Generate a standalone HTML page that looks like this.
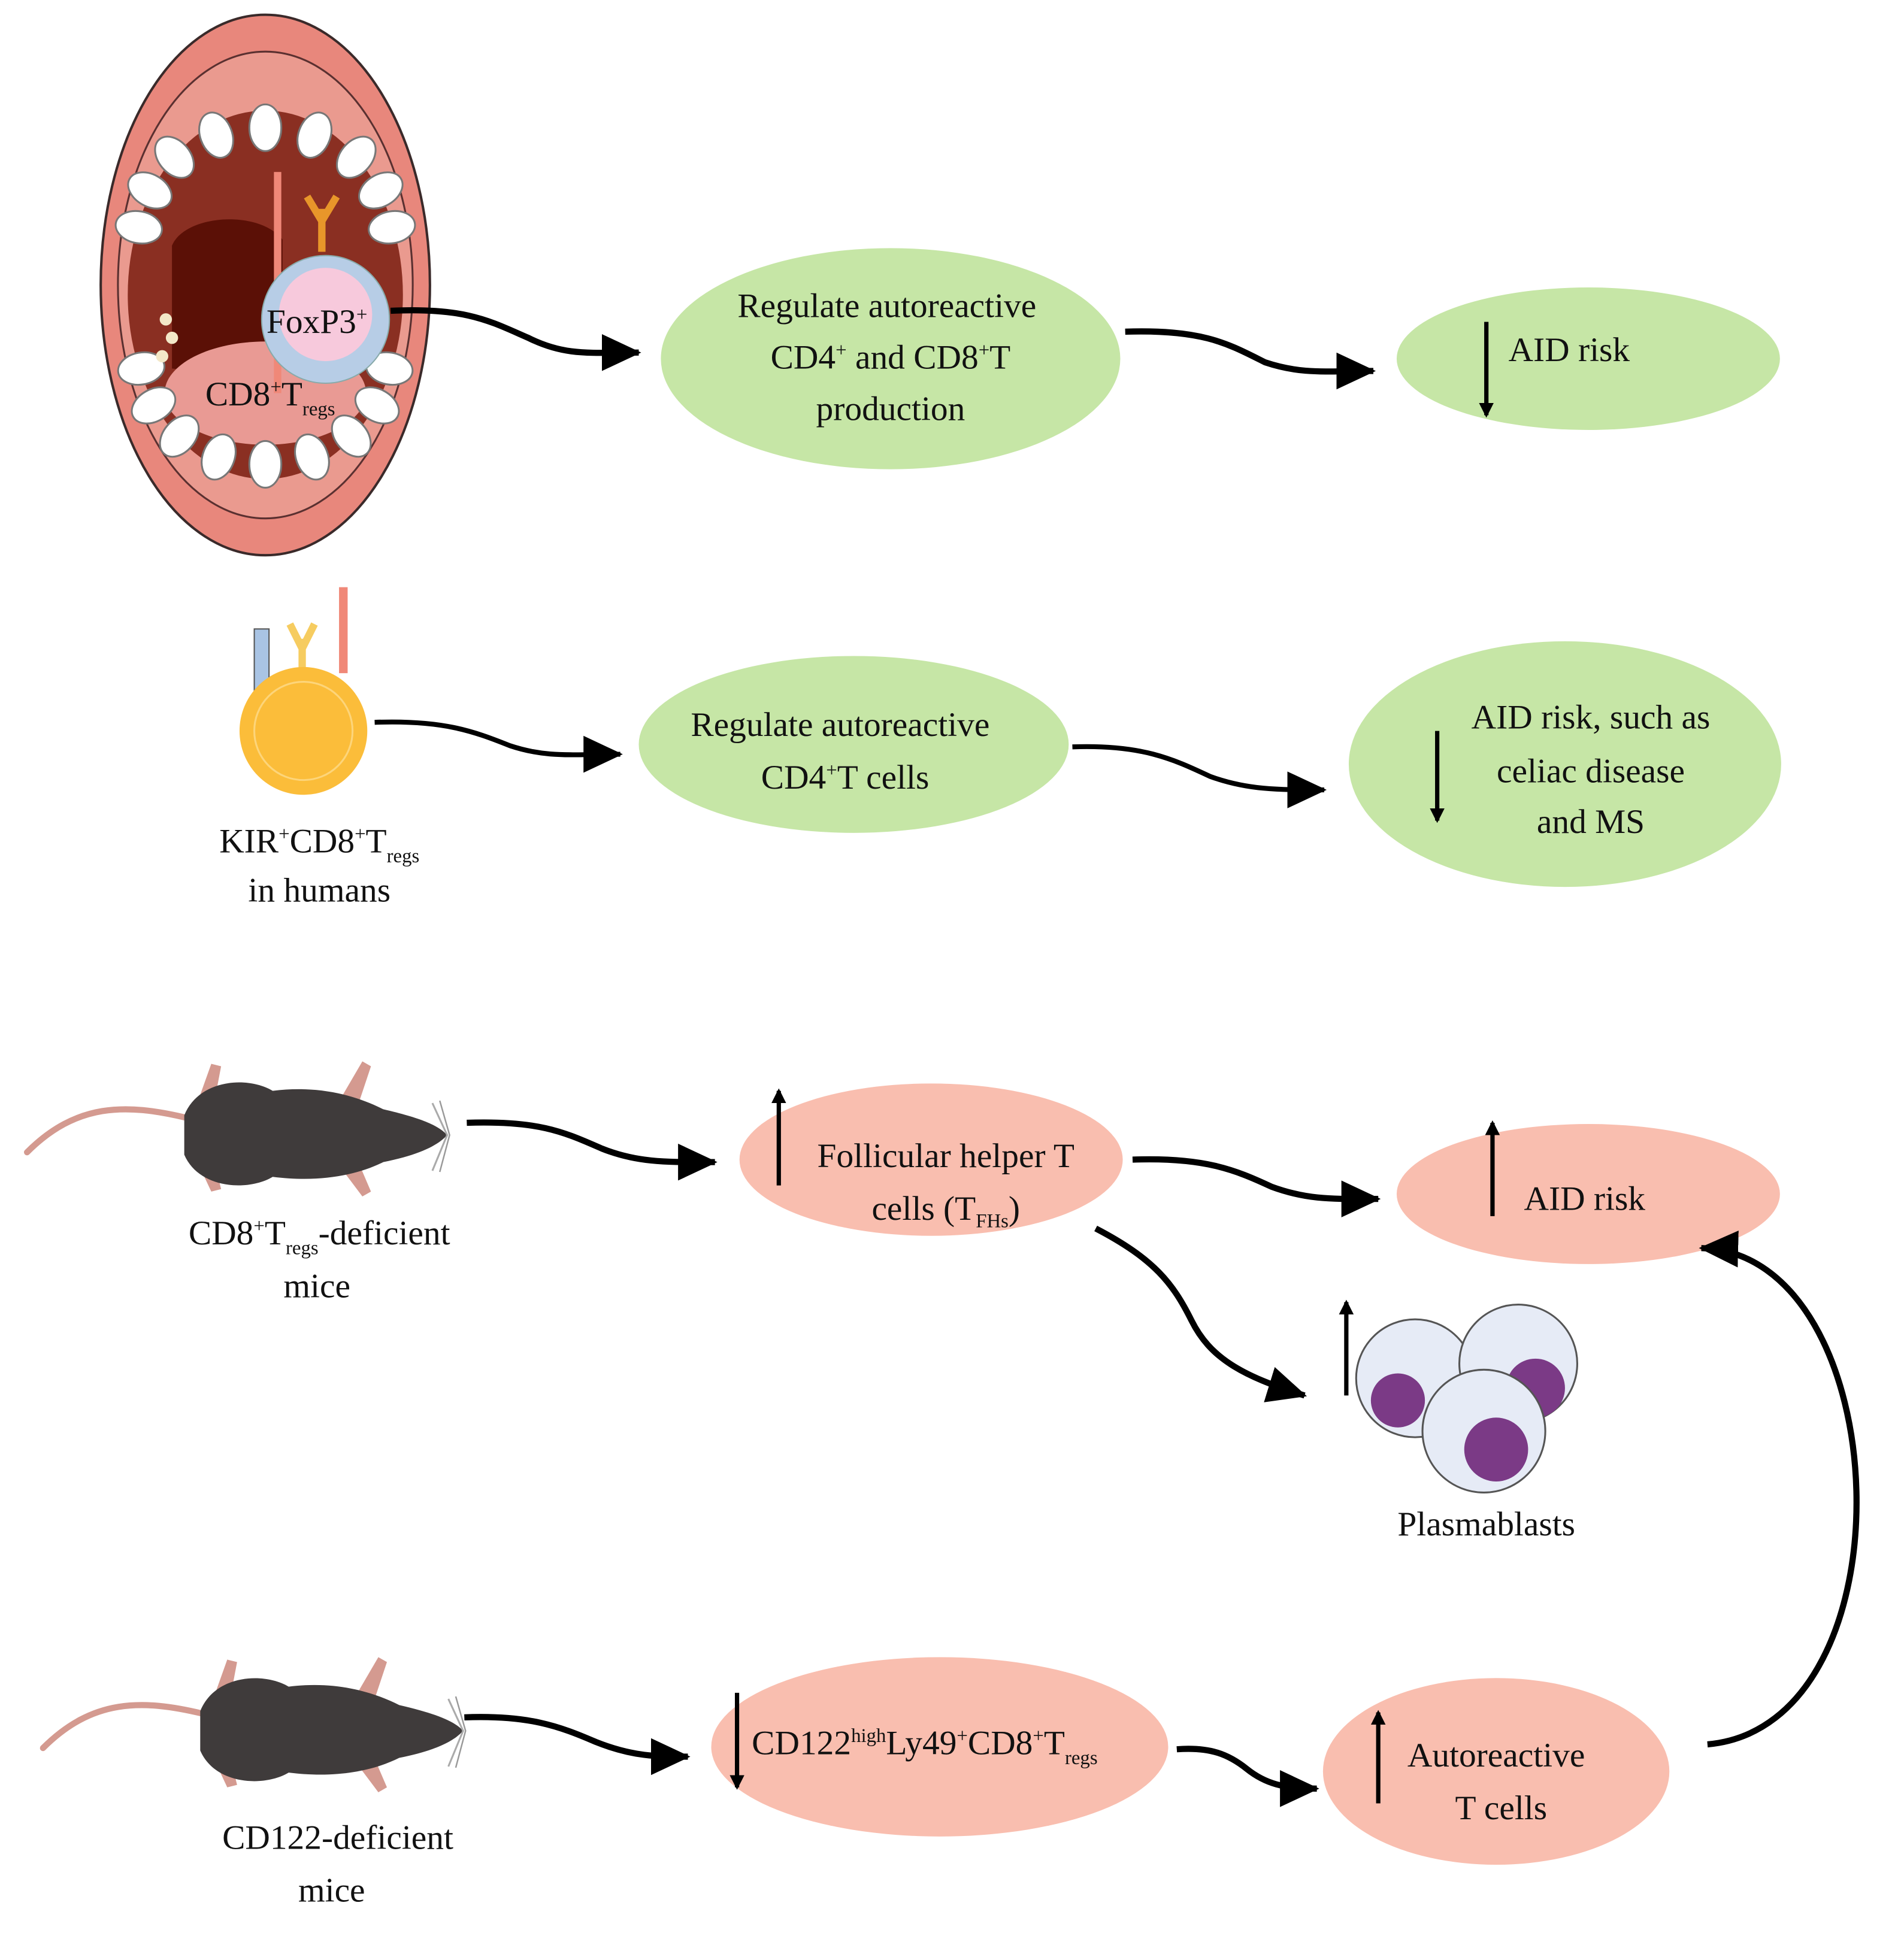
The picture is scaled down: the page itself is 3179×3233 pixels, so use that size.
<!DOCTYPE html>
<html><head><meta charset="utf-8"><style>
html,body{margin:0;padding:0;background:#fff;}
svg{display:block;}
text{font-family:"Liberation Serif",serif;fill:#111;}
</style></head><body>
<svg width="3179" height="3233" viewBox="0 0 1550 1576" preserveAspectRatio="none" xmlns="http://www.w3.org/2000/svg">
<defs>
<marker id="ah" markerUnits="userSpaceOnUse" markerWidth="34" markerHeight="34" refX="30" refY="17" orient="auto">
<path d="M0,2 L32,17 L0,32 Z" fill="#000"/></marker>
<marker id="ahs" markerUnits="userSpaceOnUse" markerWidth="14" markerHeight="14" refX="10" refY="7" orient="auto"><path d="M0,1 L12,7 L0,13 Z" fill="#000"/></marker>
<g id="mouse">
<path d="M10,80 C50,40 90,40 140,52" stroke="#d49a90" stroke-width="5" fill="none" stroke-linecap="round"/>
<path d="M145,50 L160,8 L168,10 L160,52 Z" fill="#d49a90"/>
<path d="M145,80 L160,112 L168,110 L160,78 Z" fill="#d49a90"/>
<path d="M262,42 L283,6 L290,10 L278,46 Z" fill="#d49a90"/>
<path d="M262,88 L283,116 L290,112 L278,84 Z" fill="#d49a90"/>
<path d="M138,50 C150,20 190,18 210,30 C250,25 280,35 300,45 C330,52 345,58 352,66 C345,74 330,82 300,88 C280,98 250,105 210,100 C190,112 150,110 138,82 Z" fill="#3f3b3b"/>
<path d="M340,40 L352,66 L340,95" stroke="#aaa" stroke-width="1.5" fill="none"/>
<path d="M346,38 L354,66 L346,96" stroke="#999" stroke-width="1.2" fill="none"/>
</g>
<ellipse id="tooth" cx="0" cy="0" rx="13" ry="19" fill="#fff" stroke="#777" stroke-width="1.5"/>
</defs>

<!-- Mouth -->
<ellipse cx="216" cy="232" rx="134" ry="220" fill="#e8877c" stroke="#3a2a2a" stroke-width="2"/>
<ellipse cx="216" cy="232" rx="120" ry="190" fill="#ea9a8f" stroke="#5a3030" stroke-width="1.5"/>
<ellipse cx="216" cy="240" rx="112" ry="150" fill="#8a2f22"/>
<path d="M140,200 C150,175 210,170 230,195 L230,310 L140,300 Z" fill="#5b1006"/>
<ellipse cx="216" cy="320" rx="82" ry="42" fill="#e99a94"/>
<g>
<use href="#tooth" transform="translate(113,185) rotate(-80)"/>
<use href="#tooth" transform="translate(122,155) rotate(-60)"/>
<use href="#tooth" transform="translate(142,128) rotate(-40)"/>
<use href="#tooth" transform="translate(176,110) rotate(-20)"/>
<use href="#tooth" transform="translate(216,104)"/>
<use href="#tooth" transform="translate(256,110) rotate(20)"/>
<use href="#tooth" transform="translate(290,128) rotate(40)"/>
<use href="#tooth" transform="translate(310,155) rotate(60)"/>
<use href="#tooth" transform="translate(319,185) rotate(80)"/>
<use href="#tooth" transform="translate(115,300) rotate(80)"/>
<use href="#tooth" transform="translate(125,330) rotate(60)"/>
<use href="#tooth" transform="translate(146,355) rotate(40)"/>
<use href="#tooth" transform="translate(178,372) rotate(20)"/>
<use href="#tooth" transform="translate(216,378)"/>
<use href="#tooth" transform="translate(254,372) rotate(-20)"/>
<use href="#tooth" transform="translate(286,355) rotate(-40)"/>
<use href="#tooth" transform="translate(307,330) rotate(-60)"/>
<use href="#tooth" transform="translate(317,300) rotate(-80)"/>
</g>
<rect x="223" y="140" width="6" height="180" fill="#f08878"/>
<path d="M262,205 L262,170 M262,180 L250,160 M262,180 L274,160" stroke="#e8962a" stroke-width="6" fill="none"/>
<circle cx="265" cy="260" r="52" fill="#b7cde6" stroke="#8aa" stroke-width="1"/>
<circle cx="265" cy="256" r="38" fill="#f7c9dc"/>
<circle cx="135" cy="260" r="5" fill="#f3e8c8"/><circle cx="140" cy="275" r="5" fill="#f3e8c8"/><circle cx="132" cy="290" r="5" fill="#f3e8c8"/>
<text x="258" y="271" font-size="28" text-anchor="middle">FoxP3<tspan font-size="16" dy="-10">+</tspan></text>
<text x="220" y="330" font-size="28" text-anchor="middle">CD8<tspan font-size="16" dy="-10">+</tspan><tspan dy="10">T</tspan><tspan font-size="16" dy="8">regs</tspan></text>

<!-- Row 1 -->
<ellipse cx="725" cy="292" rx="187" ry="90" fill="#c6e6a6"/>
<text x="722" y="258" font-size="28" text-anchor="middle">Regulate autoreactive</text>
<text x="725" y="300" font-size="28" text-anchor="middle">CD4<tspan font-size="16" dy="-10">+</tspan><tspan dy="10"> and CD8</tspan><tspan font-size="16" dy="-10">+</tspan><tspan dy="10">T</tspan></text>
<text x="725" y="342" font-size="28" text-anchor="middle">production</text>
<ellipse cx="1293" cy="292" rx="156" ry="58" fill="#c6e6a6"/>
<text x="1228" y="294" font-size="28">AID risk</text>
<path d="M318,253 C380,250 400,262 430,275 C460,290 480,287 520,287" stroke="#000" stroke-width="5" fill="none" marker-end="url(#ah)"/>
<path d="M916,270 C980,268 1000,280 1030,295 C1060,305 1080,302 1118,302" stroke="#000" stroke-width="5" fill="none" marker-end="url(#ah)"/>
<line x1="1210" y1="262" x2="1210" y2="338" stroke="#000" stroke-width="3.5" marker-end="url(#ahs)"/>

<!-- Row 2 -->
<line x1="213" y1="520" x2="213" y2="600" stroke="#222" stroke-width="3"/>
<rect x="207" y="512" width="12" height="58" fill="#a9c4e4" stroke="#555" stroke-width="1"/>
<rect x="276" y="478" width="7" height="70" fill="#f08878"/>
<path d="M246,555 L246,520 M246,528 L236,508 M246,528 L256,508" stroke="#f6cc60" stroke-width="6" fill="none"/>
<circle cx="247" cy="595" r="52" fill="#fbbd3a"/>
<circle cx="247" cy="595" r="40" fill="none" stroke="#fdd57a" stroke-width="1.5"/>
<text x="260" y="694" font-size="28" text-anchor="middle">KIR<tspan font-size="16" dy="-10">+</tspan><tspan dy="10">CD8</tspan><tspan font-size="16" dy="-10">+</tspan><tspan dy="10">T</tspan><tspan font-size="16" dy="8">regs</tspan></text>
<text x="260" y="734" font-size="28" text-anchor="middle">in humans</text>
<ellipse cx="695" cy="606" rx="175" ry="72" fill="#c6e6a6"/>
<text x="684" y="599" font-size="28" text-anchor="middle">Regulate autoreactive</text>
<text x="688" y="642" font-size="28" text-anchor="middle">CD4<tspan font-size="16" dy="-10">+</tspan><tspan dy="10">T cells</tspan></text>
<ellipse cx="1274" cy="622" rx="176" ry="100" fill="#c6e6a6"/>
<text x="1295" y="593" font-size="28" text-anchor="middle">AID risk, such as</text>
<text x="1295" y="637" font-size="28" text-anchor="middle">celiac disease</text>
<text x="1295" y="678" font-size="28" text-anchor="middle">and MS</text>
<line x1="1170" y1="595" x2="1170" y2="668" stroke="#000" stroke-width="3.5" marker-end="url(#ahs)"/>
<path d="M305,588 C360,586 385,595 415,607 C445,617 465,614 505,614" stroke="#000" stroke-width="4" fill="none" marker-end="url(#ah)"/>
<path d="M873,608 C930,606 955,618 985,632 C1015,643 1040,643 1078,643" stroke="#000" stroke-width="4" fill="none" marker-end="url(#ah)"/>

<!-- Row 3 -->
<use href="#mouse" transform="translate(12,858)"/>
<text x="260" y="1013" font-size="28" text-anchor="middle">CD8<tspan font-size="16" dy="-10">+</tspan><tspan dy="10">T</tspan><tspan font-size="16" dy="8">regs</tspan><tspan dy="-8">-deficient</tspan></text>
<text x="258" y="1056" font-size="28" text-anchor="middle">mice</text>
<ellipse cx="758" cy="944" rx="156" ry="62" fill="#f9beaf"/>
<text x="770" y="950" font-size="28" text-anchor="middle">Follicular helper T</text>
<text x="770" y="993" font-size="28" text-anchor="middle">cells (T<tspan font-size="16" dy="6">FHs</tspan><tspan dy="-6">)</tspan></text>
<line x1="634" y1="965" x2="634" y2="888" stroke="#000" stroke-width="3.5" marker-end="url(#ahs)"/>
<ellipse cx="1293" cy="972" rx="156" ry="57" fill="#f9beaf"/>
<text x="1290" y="985" font-size="28" text-anchor="middle">AID risk</text>
<line x1="1215" y1="990" x2="1215" y2="914" stroke="#000" stroke-width="3.5" marker-end="url(#ahs)"/>
<path d="M380,914 C440,912 460,922 490,935 C520,947 545,946 582,946" stroke="#000" stroke-width="5" fill="none" marker-end="url(#ah)"/>
<path d="M922,944 C980,942 1005,952 1035,966 C1065,977 1085,976 1122,976" stroke="#000" stroke-width="5" fill="none" marker-end="url(#ah)"/>
<path d="M892,1000 C940,1025 955,1045 970,1075 C985,1105 1010,1120 1062,1136" stroke="#000" stroke-width="5" fill="none" marker-end="url(#ah)"/>
<line x1="1096" y1="1136" x2="1096" y2="1060" stroke="#000" stroke-width="3.5" marker-end="url(#ahs)"/>

<!-- plasmablasts -->
<g stroke="#555" stroke-width="1.5">
<circle cx="1152" cy="1122" r="48" fill="#e6ebf6"/>
<circle cx="1138" cy="1140" r="22" fill="#7b3a86" stroke="none"/>
<circle cx="1236" cy="1110" r="48" fill="#e6ebf6"/>
<circle cx="1250" cy="1130" r="24" fill="#7b3a86" stroke="none"/>
<circle cx="1208" cy="1165" r="50" fill="#e6ebf6"/>
<circle cx="1218" cy="1180" r="26" fill="#7b3a86" stroke="none"/>
</g>
<text x="1210" y="1250" font-size="28" text-anchor="middle">Plasmablasts</text>

<!-- Row 4 -->
<use href="#mouse" transform="translate(25,1343)"/>
<text x="275" y="1505" font-size="28" text-anchor="middle">CD122-deficient</text>
<text x="270" y="1548" font-size="28" text-anchor="middle">mice</text>
<ellipse cx="765" cy="1422" rx="186" ry="73" fill="#f9beaf"/>
<text x="612" y="1428" font-size="28">CD122<tspan font-size="16" dy="-10">high</tspan><tspan dy="10">Ly49</tspan><tspan font-size="16" dy="-10">+</tspan><tspan dy="10">CD8</tspan><tspan font-size="16" dy="-10">+</tspan><tspan dy="10">T</tspan><tspan font-size="16" dy="8">regs</tspan></text>
<line x1="600" y1="1378" x2="600" y2="1455" stroke="#000" stroke-width="3.5" marker-end="url(#ahs)"/>
<ellipse cx="1218" cy="1442" rx="141" ry="76" fill="#f9beaf"/>
<text x="1218" y="1438" font-size="28" text-anchor="middle">Autoreactive</text>
<text x="1222" y="1481" font-size="28" text-anchor="middle">T cells</text>
<line x1="1122" y1="1468" x2="1122" y2="1394" stroke="#000" stroke-width="3.5" marker-end="url(#ahs)"/>
<path d="M378,1398 C430,1396 455,1405 485,1418 C515,1430 535,1430 560,1430" stroke="#000" stroke-width="5" fill="none" marker-end="url(#ah)"/>
<path d="M958,1424 C985,1422 1000,1428 1015,1440 C1030,1452 1045,1456 1072,1456" stroke="#000" stroke-width="5" fill="none" marker-end="url(#ah)"/>
<path d="M1390,1420 C1560,1405 1545,1020 1385,1016" stroke="#000" stroke-width="5" fill="none" marker-end="url(#ah)"/>
</svg>
</body></html>
